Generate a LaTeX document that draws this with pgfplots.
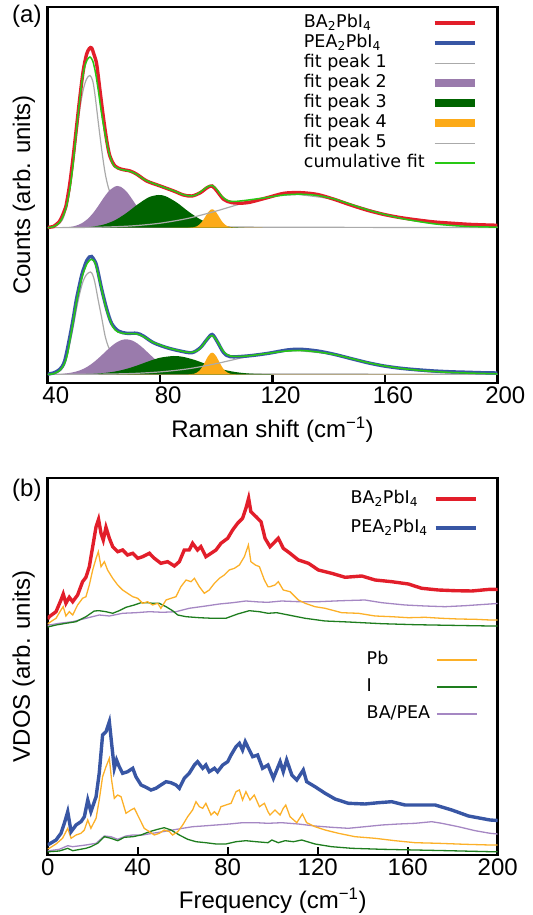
\documentclass[border=0pt]{standalone}
\usepackage{pgfplots}
\pgfplotsset{compat=1.18}
\usepackage{fontspec}
\setmainfont{Liberation Sans}
\newfontfamily\legfont{DejaVu Sans}
\definecolor{cred}{RGB}{226,30,42}
\definecolor{cblue}{RGB}{56,86,164}
\definecolor{cpurp}{RGB}{154,123,172}
\definecolor{cdgreen}{RGB}{0,100,0}
\definecolor{corange}{RGB}{252,170,24}
\definecolor{cgrey}{RGB}{170,170,170}
\definecolor{cfit}{RGB}{40,200,20}
\definecolor{cbase}{RGB}{200,165,70}
\definecolor{cpb}{RGB}{252,176,40}
\definecolor{ci}{RGB}{30,125,30}
\definecolor{cba}{RGB}{165,135,195}
\pgfplotsset{
  ll/.style={legend image code/.code={\draw[##1] (0bp,0bp) -- (40bp,0bp);}},
  panel/.style={
    scale only axis, axis line style={line width=2.6bp}, ytick=\empty,
    tick align=inside, xtick pos=lower, major tick length=8bp,
    every tick/.append style={black, line width=2.4bp},
    tick label style={font=\fontsize{24bp}{24bp}\selectfont},
    /pgf/number format/assume math mode=true,
    every axis label/.append style={font=\fontsize{24bp}{28bp}\selectfont},
    every axis y label/.style={at={(axis description cs:-0.028,0.5)}, rotate=90, anchor=south, inner sep=0pt},
    every axis x label/.style={at={(axis description cs:0.5,-0.09)}, anchor=north, inner sep=0pt},
    legend plot pos=right, legend cell align=left,
  },
  leg/.style={legend style={draw=none, fill=none, inner sep=0pt, anchor=north east,
    font=\legfont\fontsize{17.5bp}{20bp}\selectfont, column sep=6bp,
    nodes={inner sep=0pt, text height=14bp, text depth=6bp}}},
}
\begin{document}
\begin{tikzpicture}
\path[use as bounding box] (0,0) rectangle (533bp,915bp);
% ---------------- panel (a)
\begin{axis}[panel, leg, at={(47.8bp,532bp)}, anchor=south west,
  width=449.5bp, height=376bp, xmin=40, xmax=200, ymin=0, ymax=376,
  xtick={40,80,120,160,200}, xticklabel style={xshift=8bp},
  xlabel={Raman shift (cm\textsuperscript{−1})}, ylabel={Counts (arb. units)},
  legend style={at={(rel axis cs:0.959,0.984)}, row sep=0bp}]
% baselines
\addplot[forget plot, cbase, line width=1.2bp] coordinates {(40,155.3) (200,155.3)};
\addplot[forget plot, cbase, line width=1.2bp] coordinates {(40,8.7) (200,8.7)};
% fit peak 1
\addplot[forget plot, cgrey, line width=1.2bp, smooth] coordinates {
(40,155.3) (43,157.3) (44.5,160.5) (45.5,165) (46.6,175) (47.8,193) (49,218) (50.2,247) (51.4,274) (52.6,293) (53.8,304) (55,307.5) (56,302) (56.8,288) (58,260) (59.2,233) (60.4,210) (61.6,195) (63,185) (65,176) (68,168) (72,163) (80,159) (90,157.2) (100,156.4) (120,155.8) (200,155.4)};
\addplot[forget plot, cgrey, line width=1.2bp, smooth] coordinates {
(40,8.7) (43,10) (44.5,12.5) (45.5,16) (46.6,24) (47.9,40) (49.1,57) (50.2,74) (51.4,90) (52.6,102) (53.8,108.5) (55.2,111) (56,108) (56.8,100) (58,82) (59.2,65) (60.4,47) (61.6,36) (63,28.7) (65,22.6) (68,17.2) (72,13.9) (80,11.2) (90,10) (100,9.4) (120,9) (200,8.8)};
% fit peak 2
\addplot[forget plot, fill=cpurp, draw=none, smooth] coordinates {
(44,155.3) (48,156.1) (50,157.3) (52,159.6) (54,163.6) (56,169.5) (58,177.2) (60,185.6) (62,192.7) (64,196.6) (64.8,197) (66,196.2) (68,191.5) (70,183.9) (72,175.6) (74,168.2) (76,162.6) (78,159) (80,157) (84,155.55) (88,155.3)} -- cycle;
\addplot[forget plot, fill=cpurp, draw=none, smooth] coordinates {
(44,8.7) (48,10.2) (50,11.4) (52,13.3) (54,16.1) (56,20) (58,24.7) (60,29.9) (62,35.2) (64,39.7) (66,42.7) (67.9,43.7) (70,42.5) (72,39.3) (74,34.7) (76,29.4) (78,24.2) (80,19.6) (82,15.8) (84,13.1) (86,11.3) (88,10.1) (92,9) (96,8.7)} -- cycle;
% fit peak 3
\addplot[forget plot, fill=cdgreen, draw=none, smooth] coordinates {
(52,155.3) (56,156.4) (60,158.5) (64,162.9) (68,170) (72,178.6) (76,185.8) (79.4,188) (82,186.7) (86,180.3) (90,171.6) (94,164.1) (98,159.2) (102,156.7) (106,155.7) (110,155.3)} -- cycle;
\addplot[forget plot, fill=cdgreen, draw=none, smooth] coordinates {
(48,8.7) (52,8.9) (56,9.2) (60,10) (64,11.5) (68,14.1) (72,17.7) (76,21.8) (80,25.3) (84.8,27) (88,26.2) (92,23.3) (96,19.3) (100,15.4) (104,12.4) (108,10.5) (112,9.4) (116,9) (120,8.7)} -- cycle;
% fit peak 4
\addplot[forget plot, fill=corange, draw=none, smooth] coordinates {
(90,155.3) (92,155.8) (93,156.6) (94,158.5) (95,161.6) (96,166) (97,170.4) (98,173.3) (98.5,173.7) (99,173.3) (100,170.4) (101,166) (102,161.6) (103,158.5) (104,156.6) (105,155.8) (107,155.3)} -- cycle;
\addplot[forget plot, fill=corange, draw=none, smooth] coordinates {
(90,8.7) (92,9.2) (93,10.3) (94,12.4) (95,16.2) (96,21.2) (97,26.5) (98,29.8) (98.5,30.3) (99,29.8) (100,26.5) (101,21.2) (102,16.2) (103,12.4) (104,10.3) (105,9.2) (107,8.7)} -- cycle;
% fit peak 5
\addplot[forget plot, cgrey, line width=1.2bp, smooth] coordinates {
(40,155.3) (50,155.5) (60,155.9) (70,157.1) (80,159.8) (90,164.7) (100,172) (110,180.2) (120,186.5) (128,188.3) (130,188.2) (140,184.4) (150,177) (160,168.9) (170,162.4) (180,158.5) (190,156.5) (200,155.7)};
\addplot[forget plot, cgrey, line width=1.2bp, smooth] coordinates {
(40,8.7) (50,8.75) (60,8.9) (70,9.5) (80,11.1) (90,14.2) (100,19.4) (110,25.7) (120,30.7) (128,32.2) (130,32.1) (140,29.1) (150,23.2) (160,17.1) (170,12.7) (180,10.3) (190,9.2) (200,8.8)};
% data
\addplot[forget plot, cred, line width=3.4bp, smooth] coordinates {
(40,155.5) (42,156.5) (43,158.5) (44,161) (45,166) (46,173) (46.6,178.7) (47.8,198.7) (49,225.3) (50.2,255.3) (51.4,285.3) (52.6,312) (53.8,328.7) (54.8,334.5) (55.6,335) (56.5,328) (57.4,318.7) (58.6,292) (59.8,265.3) (61,242) (62.1,227) (63.9,217) (66.3,213.7) (69.3,212) (71.7,208.7) (75.2,202) (80,197) (84.8,192) (88.3,188) (91.3,187) (94.3,190.3) (96.7,195.3) (98.5,197) (100.2,192) (102.6,183.7) (105.6,180.3) (111,180.3) (118.1,185.3) (124.1,189.7) (130,190.3) (136,188.5) (141.9,183.7) (147.8,178) (153.8,172.7) (159.7,168.5) (165.7,165.3) (171.6,163) (177.6,161) (183.5,159.8) (189.5,158.7) (194,158.2) (200,157.7)};
\addplot[forget plot, cblue, line width=3.4bp, smooth] coordinates {
(40,8.9) (42,10) (44.3,13.7) (46,22) (47.9,47) (49.1,65.3) (50.2,83.7) (52,107) (53,116) (53.8,122) (54.8,126) (55.6,126.5) (56.5,123) (57.4,117) (59.2,93.7) (61,73.7) (62.7,59.7) (65.1,52) (68.1,49.7) (71.7,49.7) (74,47) (77.6,40.3) (82.4,35.3) (87.1,32) (91.3,30.3) (94.3,35.3) (96.7,43.7) (98.5,48.5) (100.2,42) (102.6,30.3) (105,26.3) (111,27) (118.1,29.5) (125.2,33) (130,33.7) (136,32) (141.9,28.7) (147.8,24.5) (153.8,20.3) (159.7,17) (165.7,14.7) (171.6,13.2) (177.6,12) (183.5,11.2) (189.5,10.7) (194,10.3) (200,10)};
% cumulative fits
\addplot[forget plot, cfit, line width=1.5bp, smooth] coordinates {
(40,155.3) (42,156.3) (44,160) (45,164) (46,171) (47,181) (48,197) (49,219) (50,247) (51,274) (52,298) (53,315) (54,323) (55,326) (56,322) (57,310) (58,292) (59,272) (60,255) (61,240) (62,228) (63,220) (64,216) (66,213.5) (68,212.5) (70,211) (72,208) (75,202.5) (80,197) (85,192) (88,188.5) (91,187) (93,188.5) (95,192.5) (97,196.5) (98.5,197.5) (100,194) (102,186.5) (104,182.5) (106,181.5) (110,182.5) (114,184) (118,185.5) (124,188) (130,188.8) (136,187.5) (142,184) (148,178.5) (154,173) (160,168.5) (166,164.5) (172,161.5) (178,159) (184,157.5) (190,156.5) (200,155.8)};
\addplot[forget plot, cfit, line width=1.5bp, smooth] coordinates {
(40,8.7) (42,9.2) (44,12) (45,15) (46,20) (47,29) (48,45) (49,61) (50,78) (51,92) (52,104) (53,113) (54,119.5) (55,123) (55.6,123.7) (56.5,122) (57.4,115) (58.3,104) (59.2,93) (60,83) (61,72) (62,64) (63,57) (64,53) (65,51) (67,49.5) (69,49.5) (71.7,49) (74,46.5) (77.6,40.5) (80,38) (82.4,35.5) (85,33.5) (87,32.2) (89,31) (91,30.5) (92.5,31.5) (94,34) (95.5,39) (97,45) (98.5,47.5) (100,43) (101.5,36) (103,30) (105,27) (108,26.5) (112,27.3) (118,29.5) (124,31.7) (130,32.5) (136,31) (142,28.5) (148,24.5) (154,20.3) (160,17) (166,14.5) (172,12.7) (178,11.4) (184,10.5) (190,9.9) (200,9.2)};
% legend
\addlegendimage{ll, cred, line width=4bp}\addlegendentry{BA\textsubscript{2}PbI\textsubscript{4}}
\addlegendimage{ll, cblue, line width=4bp}\addlegendentry{PEA\textsubscript{2}PbI\textsubscript{4}}
\addlegendimage{ll, cgrey, line width=1.3bp}\addlegendentry{fit peak 1}
\addlegendimage{ll, cpurp, line width=8bp}\addlegendentry{fit peak 2}
\addlegendimage{ll, cdgreen, line width=8bp}\addlegendentry{fit peak 3}
\addlegendimage{ll, corange, line width=8bp}\addlegendentry{fit peak 4}
\addlegendimage{ll, cgrey, line width=1.3bp}\addlegendentry{fit peak 5}
\addlegendimage{ll, cfit, line width=1.5bp}\addlegendentry{cumulative fit}
\end{axis}
% ---------------- panel (b)
\begin{axis}[panel, leg, at={(47.7bp,60bp)}, anchor=south west,
  width=450bp, height=377bp, xmin=0, xmax=200, ymin=0, ymax=377,
  xtick={0,40,80,120,160,200},
  every axis x label/.style={at={(axis description cs:0.5,-0.086)}, anchor=north, inner sep=0pt},
  xlabel={Frequency (cm\textsuperscript{−1})}, ylabel={VDOS (arb. units)},
  legend style={at={(rel axis cs:0.956,0.544)}, row sep=7bp}]
% upper (BA)
\addplot[forget plot, cba, line width=1.3bp] coordinates {
(0,229.5) (0.7,230) (5.2,231.7) (11.1,233.3) (17,236.7) (22.9,240) (27.4,239) (33.3,241.7) (39.2,242.3) (45.2,243.3) (51.1,242.7) (57,243.3) (62.9,246.7) (70.3,249) (76.3,251) (82.2,252.3) (88.1,254) (94.1,253) (97.9,252.7) (104,254) (111.4,253.3) (120.3,253.3) (130.7,254.3) (141,255) (148.5,252.3) (158.8,250) (167.7,249) (176.6,248.3) (185.5,249.3) (196.6,251) (200,251.5)};
\addplot[forget plot, ci, line width=1.3bp] coordinates {
(0,228) (3.7,230) (8.1,231.7) (12.6,233.3) (17,238.3) (20.7,244) (22.9,244.3) (25.9,243.3) (28.9,241.7) (31.8,244.3) (34.8,247.7) (38.5,250) (41.5,252.3) (44.4,252.3) (46.6,251.7) (49.6,251.7) (52.6,248.3) (55.5,244.3) (57.8,240) (61.5,238.3) (67.4,237.3) (73.3,236.7) (79.2,236.7) (84.4,241) (89.6,244.3) (94.1,243.3) (97.9,241.7) (101.8,242.3) (107,240) (114.4,236.7) (123.3,234) (133.6,233) (148.5,231.3) (163.3,230.3) (178.1,229.7) (196.6,229) (200,229)};
\addplot[forget plot, cpb, line width=1.3bp] coordinates {
(0,231) (0.7,232.3) (3.7,236.7) (5.9,245) (6.9,248.3) (8.1,239) (9.6,243.3) (11.1,240) (13.3,250) (15.5,256.7) (17.0,258.3) (18.5,270) (20.0,285) (21.5,296.7) (22.5,303.3) (23.7,288.3) (25.2,293.3) (26.6,285) (28.9,276.7) (31.1,270) (33.3,265) (35.5,261.7) (37.8,258.3) (40.0,256.7) (42.2,251.7) (44.4,253.3) (46.6,250) (48.9,251.7) (50.3,246.7) (52.6,255) (54.8,256.7) (57.0,258.3) (59.2,268.3) (61.5,275) (63.7,273.3) (65.2,276.7) (67.4,268.3) (69.6,261.7) (71.8,265) (74.1,271.7) (76.3,276.7) (78.5,280) (80.7,285) (83.0,286.7) (85.2,290) (87.4,298.3) (89.2,310) (90.3,293.3) (92.3,290) (94.1,288.3) (96.3,275) (97.9,268.3) (98.8,268.3) (101,270) (102.5,273.3) (104.7,265) (107.7,263.3) (111.4,255) (114.4,251.7) (118.8,248.3) (123.3,246.7) (130.7,242.3) (138.1,241.7) (145.5,239) (152.9,238.3) (160.3,237.3) (167.7,237.7) (175.1,236.7) (182.5,236) (190,235.7) (196.6,235) (200,235)};
\addplot[forget plot, cred, line width=3.4bp] coordinates {
(0,236) (0.7,238.3) (3.7,243.3) (5.9,255) (6.9,261) (8.1,251.7) (9.6,257.7) (11.1,253.3) (13.3,260) (15.5,273.3) (17.0,277.7) (18.5,288.3) (20.0,308.3) (21.5,328.3) (22.6,335.7) (23.7,321.7) (24.7,315) (25.9,327.7) (27.4,316.7) (28.9,308.3) (31.1,303.3) (33.3,305) (35.5,300) (37.8,301.7) (40.0,296.7) (42.2,298.3) (45.2,301.7) (47.4,296.7) (50.3,291.7) (53.3,293.3) (56.3,289) (58.5,293.3) (60.7,305) (62.9,305) (64.4,311.7) (66.6,305) (68.1,308.3) (70.3,298.3) (72.6,301.7) (74.8,305) (77.0,311.7) (80.0,316.7) (82.2,325) (84.4,331.7) (86.6,336.7) (88.1,346.7) (89.3,356.7) (90.3,343.3) (92.6,338.3) (94.8,333.3) (96.6,316.7) (98.8,308.3) (100.3,311.7) (102.5,316.7) (104.7,306.7) (107.7,301.7) (111.4,295) (115.9,291.7) (120.3,285) (126.2,281.7) (132.2,277.7) (139.6,279) (145.5,275) (152.9,273.3) (160.3,271) (166.2,266.7) (173.6,265) (181.0,264.3) (188.5,264) (196.6,265.7) (200,265.5)};
% lower (PEA)
\addplot[forget plot, cba, line width=1.3bp] coordinates {
(0,4) (0.7,4.3) (5.2,5.7) (8.9,9.3) (11.1,8.3) (17,10) (21.5,11.7) (25.2,19) (28.1,18.3) (31.1,15.7) (34.8,19) (37.8,20) (42.2,20) (46.6,21.7) (51.1,23.3) (55.5,25) (60,26.7) (64.4,28.3) (68.9,29) (74.8,30) (80.7,31) (86.6,32.3) (92.6,32.3) (97.9,31.7) (104,32.3) (111.4,31) (118.8,29) (126.2,27.7) (133.6,26.7) (141,28.3) (148.5,30) (155.9,31) (163.3,31.7) (170.7,33.3) (175.1,31.7) (182.5,28.3) (190,24.3) (196.6,21.7) (200,21)};
\addplot[forget plot, ci, line width=1.3bp] coordinates {
(0,3) (0.7,3.3) (5.2,4) (8.9,6.7) (11.1,4.3) (17,6.7) (19.2,8.3) (22.2,11.7) (25.2,18.3) (28.1,16.7) (31.1,14.3) (34.1,17.7) (37.8,18.3) (41.5,20) (45.2,23.3) (48.9,25.7) (51.8,27.3) (54.8,25) (58.5,20) (62.2,15.7) (65.9,13.3) (70.3,12.3) (74.8,11) (79.2,11) (83.7,13.3) (88.1,14.3) (92.6,13.3) (97.9,12.3) (99.6,15) (102.5,12.3) (105.5,14.3) (109.2,13.3) (112.9,15) (118.8,11) (126.2,8.3) (135.1,6.7) (148.5,5.7) (163.3,5) (178.1,4.3) (196.6,3.3) (200,3.2)};
\addplot[forget plot, cpb, line width=1.3bp] coordinates {
(0,6) (0.7,6.7) (3.7,11) (6.6,16.7) (8.9,26.7) (10.4,16.7) (12.6,20) (14.8,21.7) (16.3,25) (17.8,35) (19.2,26.7) (21.5,36.7) (22.9,55) (24.4,78.3) (25.9,88.3) (27.4,96.7) (28.4,75) (29.6,56.7) (31.1,60) (32.6,58.3) (34.8,41.7) (37,45) (38.5,46.7) (40.7,36.7) (42.9,26.7) (45.2,23.3) (47.4,20) (49.6,21.7) (51.8,25) (54.1,23.3) (55.5,20) (57.8,23.3) (60,30) (62.2,38.3) (64.4,45) (65.9,53.3) (67.4,48.3) (68.9,46.7) (70.3,51.7) (72.6,40) (74.1,43.3) (75.5,40) (77,48.3) (79.2,50) (81.5,51.7) (83.7,63.3) (85.2,65) (86.6,55) (88.1,63.3) (89.9,55) (91.8,60) (94.1,48.3) (96.3,51.7) (97.9,43.3) (98.8,40) (101,45) (103.3,40) (104.7,46.7) (105.8,50) (107.7,38.3) (110.7,32.3) (113.2,41) (115.1,32.3) (118.8,28.3) (123.3,25) (129.2,21.7) (136.6,18.3) (145.5,16.7) (154.4,14.3) (163.3,12.3) (173.6,11.7) (185.5,10.7) (196.6,10) (200,10)};
\addplot[forget plot, cblue, line width=3.4bp] coordinates {
(0,10) (0.7,11) (3.7,15) (5.9,21.7) (7.4,31.7) (8.9,43.3) (10.4,23.3) (12.6,30) (14.8,33.3) (16.3,38.3) (17.8,55) (19.2,43.3) (21.5,58.3) (22.9,81.7) (24.4,120) (25.9,123.3) (27.4,133.3) (28.4,111.7) (29.6,86.7) (30.6,95) (31.8,88.3) (33.3,81.7) (35.5,83.3) (37.8,86.7) (39.2,78.3) (41.5,70) (43.7,67.7) (45.9,65) (48.1,66.7) (50.3,70) (52.6,73.3) (54.8,72.3) (57,70) (58.5,66.7) (60.7,76.7) (62.9,81.7) (65.2,90) (66.6,93.3) (68.9,86.7) (70.3,90) (71.8,83.3) (74.1,86.7) (75.5,83.3) (77.8,90) (80,93.3) (81.5,100) (83.7,108.3) (85.2,111.7) (86.6,105) (87.8,113.3) (89.6,105) (91.1,98.3) (93.3,100) (95.5,86.7) (97.9,90) (98.8,85) (100.3,76.7) (103.3,93.3) (104.7,83.3) (106.2,95) (108.5,80) (110.7,75) (113.6,85) (115.1,73.3) (118.8,68.3) (123.3,61.7) (127.7,56) (133.6,51.7) (141,51) (147,52.3) (152.9,53.3) (158.8,50) (166.2,50) (172.2,50) (179.6,45) (187,39) (196.6,35) (200,34.5)};
\addlegendimage{ll, cpb, line width=1.5bp}\addlegendentry{Pb}
\addlegendimage{ll, ci, line width=1.5bp}\addlegendentry{I}
\addlegendimage{ll, cba, line width=1.5bp}\addlegendentry{BA/PEA}
\end{axis}
\begin{axis}[panel, leg, hide axis, at={(47.7bp,60bp)}, anchor=south west,
  width=450bp, height=377bp, xmin=0, xmax=200, ymin=0, ymax=377,
  legend style={at={(rel axis cs:0.956,0.971)}, row sep=9bp}]
\addlegendimage{ll, cred, line width=4bp}\addlegendentry{BA\textsubscript{2}PbI\textsubscript{4}}
\addlegendimage{ll, cblue, line width=4bp}\addlegendentry{PEA\textsubscript{2}PbI\textsubscript{4}}
\end{axis}
\node[anchor=base west, inner sep=0pt, font=\fontsize{24bp}{28bp}\selectfont] at (12bp,892bp) {(a)};
\node[anchor=base west, inner sep=0pt, font=\fontsize{24bp}{28bp}\selectfont] at (12bp,418bp) {(b)};
\end{tikzpicture}
\end{document}
